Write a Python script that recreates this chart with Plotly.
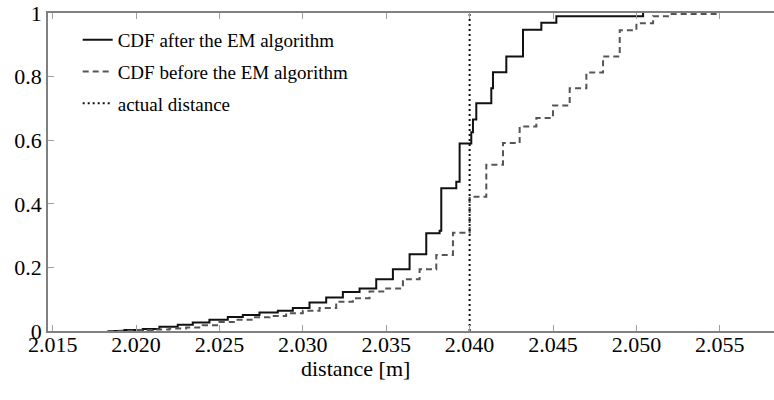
import plotly.graph_objects as go

# Empirical CDF after the EM algorithm (step positions in metres, cumulative probability)
after_x = [2.0183, 2.0193, 2.0204, 2.0214, 2.0225, 2.0234, 2.0244, 2.0255, 2.0264, 2.0274,
           2.0285, 2.0294, 2.0304, 2.0314, 2.0324, 2.0334, 2.0344, 2.0354, 2.0364, 2.0374,
           2.0382, 2.0383, 2.0392, 2.0394, 2.0401, 2.0402, 2.0404, 2.0413, 2.0414, 2.0422,
           2.0432, 2.0443, 2.0452, 2.0504]
after_cdf = [0.0, 0.003, 0.006, 0.013, 0.020, 0.027, 0.035, 0.044, 0.050, 0.058,
             0.064, 0.072, 0.090, 0.105, 0.123, 0.134, 0.163, 0.194, 0.241, 0.307,
             0.315, 0.449, 0.469, 0.590, 0.625, 0.665, 0.716, 0.763, 0.814, 0.863,
             0.947, 0.969, 0.990, 1.0]

# Empirical CDF before the EM algorithm
before_x = [2.0183, 2.019, 2.020, 2.021, 2.022, 2.023, 2.024, 2.025, 2.026, 2.027,
            2.028, 2.029, 2.030, 2.031, 2.032, 2.033, 2.034, 2.035, 2.036, 2.037,
            2.038, 2.039, 2.040, 2.041, 2.042, 2.043, 2.044, 2.045, 2.046, 2.047,
            2.048, 2.049, 2.050, 2.051, 2.052, 2.055]
before_cdf = [0.0, 0.001, 0.003, 0.005, 0.008, 0.011, 0.018, 0.028, 0.035, 0.043,
              0.047, 0.056, 0.064, 0.072, 0.092, 0.103, 0.124, 0.134, 0.163, 0.194,
              0.239, 0.309, 0.422, 0.523, 0.591, 0.643, 0.670, 0.709, 0.763, 0.813,
              0.863, 0.946, 0.968, 0.990, 0.997, 1.0]

# True distance
actual_distance = 2.040

x_ticks = [2.015, 2.020, 2.025, 2.030, 2.035, 2.040, 2.045, 2.050, 2.055]
y_ticks = [0, 0.2, 0.4, 0.6, 0.8, 1]

labels = ["CDF after the EM algorithm", "CDF before the EM algorithm", "actual distance"]

SERIF = "Liberation Serif"

fig = go.Figure()
fig.add_trace(go.Scatter(
    x=after_x, y=after_cdf, mode="lines", line_shape="hv", name=labels[0],
    legendgroup="a", line=dict(color="#111111", width=2)))
fig.add_trace(go.Scatter(
    x=before_x, y=before_cdf, mode="lines", line_shape="hv", name=labels[1],
    legendgroup="b", line=dict(color="#555555", width=2, dash="6px,4px")))
fig.add_trace(go.Scatter(
    x=[actual_distance, actual_distance], y=[0, 1], mode="lines", name=labels[2],
    legendgroup="c", line=dict(color="#111111", width=2, dash="2px,3px")))

axis_common = dict(
    showline=True, linecolor="#808080", linewidth=1.5,
    ticks="inside", ticklen=6, tickcolor="#a0a0a0", tickwidth=1,
    showgrid=False, zeroline=False,
    tickfont=dict(family=SERIF, size=22, color="#000000"),
)

fig.update_layout(
    width=774, height=400,
    margin=dict(l=48, r=0, t=13, b=69),
    paper_bgcolor="white", plot_bgcolor="white",
    font=dict(family=SERIF, color="#000000"),
    xaxis=dict(range=[2.01472, 2.05825], tickvals=x_ticks, tickformat=".3f",
               mirror="ticks", ticklabelstandoff=-7, **axis_common),
    yaxis=dict(range=[0, 1], tickvals=y_ticks, mirror=False, **axis_common),
    legend=dict(x=0.0409, y=0.975, xanchor="left", yanchor="top",
                bgcolor="rgba(0,0,0,0)", borderwidth=0, tracegroupgap=4,
                traceorder="grouped",
                font=dict(family=SERIF, size=19, color="#000000")),
    annotations=[dict(text="distance [m]", xref="paper", yref="paper",
                      x=(355 - 48) / 726, y=-0.118, xanchor="center", yanchor="middle",
                      showarrow=False,
                      font=dict(family=SERIF, size=22, color="#000000"))],
)

fig.write_html("out.html")
